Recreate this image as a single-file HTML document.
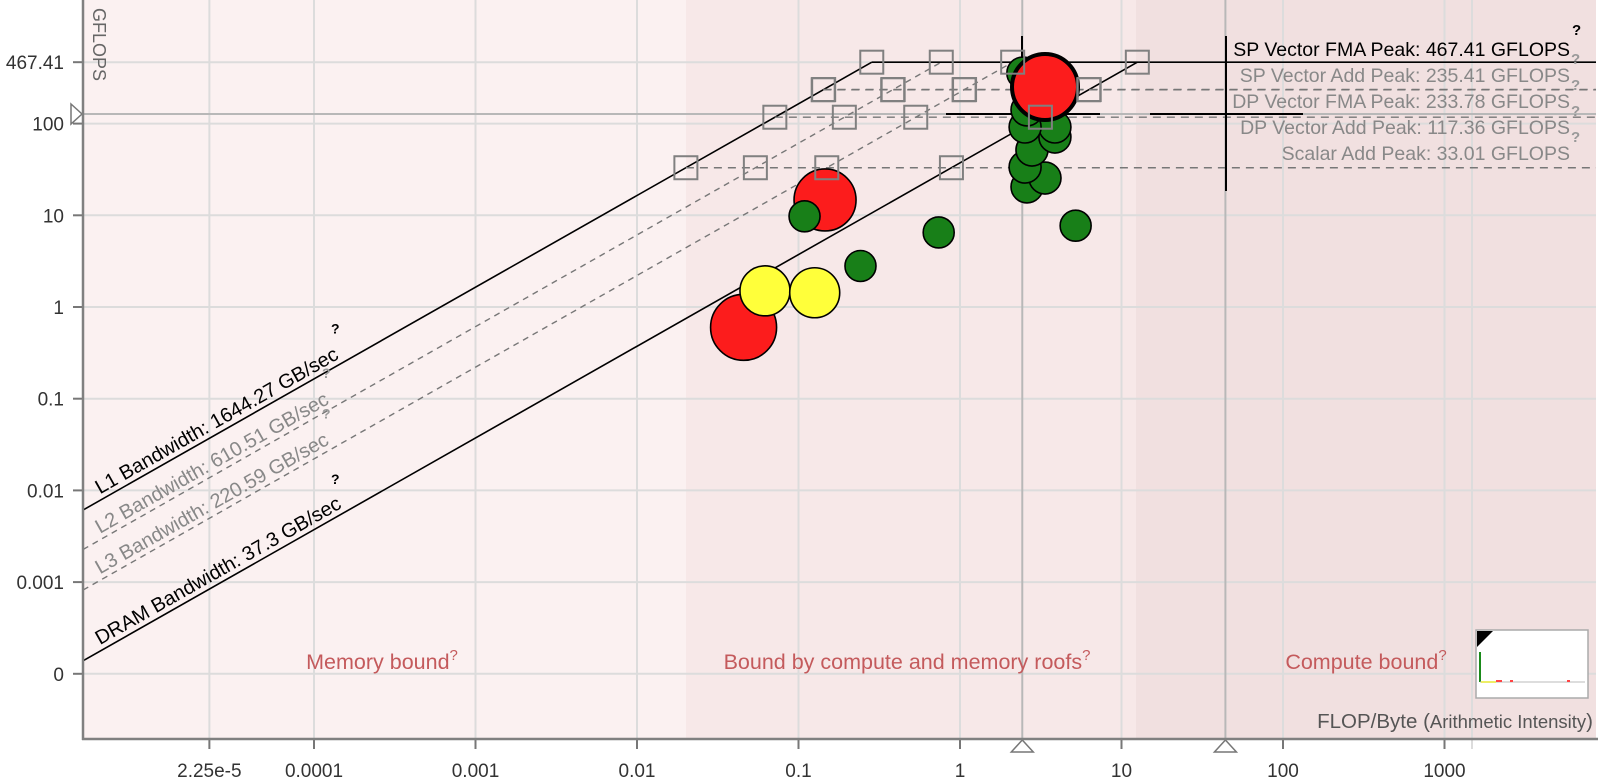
<!DOCTYPE html>
<html><head><meta charset="utf-8"><style>
html,body{margin:0;padding:0;background:#fff;}
svg{display:block;font-family:"Liberation Sans",sans-serif;}
</style></head><body>
<svg id="chart" width="1598" height="778" viewBox="0 0 1598 778" xmlns="http://www.w3.org/2000/svg">
<g id="bg"></g><g id="grid"></g><g id="roofs"></g><g id="marks"></g><g id="labels"></g>
</svg>
<script>
// ---- data ----
const xTicks = [2.25e-5, 0.0001, 0.001, 0.01, 0.1, 1, 10, 100, 1000];
const xTickLabels = ["2.25e-5","0.0001","0.001","0.01","0.1","1","10","100","1000"];
const yTicks = [467.41, 100, 10, 1, 0.1, 0.01, 0.001, 0.0001];
const yTickLabels = ["467.41","100","10","1","0.1","0.01","0.001","0"];
const bwNames = ["L1 Bandwidth: 1644.27 GB/sec","L2 Bandwidth: 610.51 GB/sec","L3 Bandwidth: 220.59 GB/sec","DRAM Bandwidth: 37.3 GB/sec"];
const bwValues = [1644.27, 610.51, 220.59, 37.3];
const roofNames = ["SP Vector FMA Peak: 467.41 GFLOPS","SP Vector Add Peak: 235.41 GFLOPS","DP Vector FMA Peak: 233.78 GFLOPS","DP Vector Add Peak: 117.36 GFLOPS","Scalar Add Peak: 33.01 GFLOPS"];
const roofValues = [467.41, 235.41, 233.78, 117.36, 33.01];
const pointAI     = [0.0457, 0.062, 0.126, 0.146, 0.109, 0.242, 0.738, 5.2, 2.60, 3.36, 2.53, 2.79, 3.87, 3.87, 2.53, 2.60, 2.45, 3.36];
const pointGFLOPS = [0.6, 1.5, 1.43, 14.7, 9.75, 2.8, 6.5, 7.7, 20.4, 25.5, 33.6, 51.5, 71.4, 91.8, 91.8, 141, 356, 251];
const pointSize   = [33, 25, 25, 31, 15.5, 15.5, 15.5, 15.5, 16, 16, 16, 16, 16, 16, 16, 16, 16, 33];
const pointKind   = ["red","yellow","yellow","red","green","green","green","green","green","green","green","green","green","green","green","green","green","red"];
const cursorAI = [2.43, 44];
const cursorGFLOPS = 114;

// ---- axes ----
const L=83, R=1596, T=0, B=739;
const X = v => 960 + 161.5*Math.log10(v);
const Y = v => 307 - 91.7*Math.log10(v);
const NS="http://www.w3.org/2000/svg";
function mk(tag, attrs, parent, text){const e=document.createElementNS(NS,tag);for(const k in attrs)e.setAttribute(k,attrs[k]);if(text!==undefined)e.textContent=text;document.getElementById(parent).appendChild(e);return e;}

let e;
e=mk("rect",{x:L,y:T,width:686-L,height:B-T,fill:"#fbf1f1"},"bg");


e=mk("rect",{x:686,y:T,width:1136-686,height:B-T,fill:"#f7e8e8"},"bg");


e=mk("rect",{x:1136,y:T,width:R-1136,height:B-T,fill:"#f1e0e0"},"bg");



xTicks.forEach((v,i)=>{const x=X(v);
  e=mk("line",{x1:x,x2:x,y1:T,y2:B,stroke:"#dcdcdc","stroke-width":2},"grid");
  
  
  e=mk("line",{x1:x,x2:x,y1:B,y2:B+10,stroke:"#777","stroke-width":2},"grid");
  
  
  e=mk("text",{x:x,y:777,"text-anchor":"middle","font-size":19,fill:"#333"},"labels",xTickLabels[i]);
  
  
});
e=mk("line",{x1:1472,x2:1472,y1:T,y2:B+10,stroke:"#dcdcdc","stroke-width":2},"grid");


yTicks.forEach((v,i)=>{const y=Y(v);
  e=mk("line",{x1:L,x2:R,y1:y,y2:y,stroke:"#dcdcdc","stroke-width":2},"grid");
  
  
  e=mk("line",{x1:L-10,x2:L,y1:y,y2:y,stroke:"#777","stroke-width":2},"grid");
  
  
  e=mk("text",{x:64,y:y+7,"text-anchor":"end","font-size":19,fill:"#333"},"labels",yTickLabels[i]);
  
  
});
cursorAI.forEach(a=>{const x=X(a);
  e=mk("line",{x1:x,x2:x,y1:T,y2:B,stroke:"#b8b8b8","stroke-width":2},"grid");
  
  
  e=mk("path",{d:`M${x-11},${B+13}L${x},${B+1}L${x+11},${B+13}Z`,fill:"#fff",stroke:"#777","stroke-width":1.5},"labels");
  
  
});
e=mk("line",{x1:L,x2:R,y1:cursorGFLOPS,y2:cursorGFLOPS,stroke:"#b8b8b8","stroke-width":2},"grid");


e=mk("path",{d:`M71,${cursorGFLOPS-10}L82,${cursorGFLOPS}L71,${cursorGFLOPS+10}Z`,fill:"#fff",stroke:"#777","stroke-width":1.5},"labels");



const topRoof=roofValues[0];
const ang=-Math.atan(91.7/161.5)*180/Math.PI;
bwValues.forEach((bw,i)=>{
  const ai0=Math.pow(10,(L-960)/161.5), ai1=topRoof/bw;
  const solid=(i===0||i===3);
  e=mk("line",{x1:L,y1:Y(bw*ai0),x2:X(ai1),y2:Y(topRoof),stroke:solid?"#000":"#777","stroke-width":solid?1.6:1.4,"stroke-dasharray":solid?"none":"6,5"},"roofs");
  
  
  const lx=100, la=Math.pow(10,(lx-960)/161.5), ly=Y(bw*la)-6;
  e=mk("text",{x:lx,y:ly,"font-size":20,fill:solid?"#000":"#888",transform:`rotate(${ang} ${lx} ${ly})`},"labels",bwNames[i]);
  
  
  const qx=solid?336:327, qa=Math.pow(10,(qx-960)/161.5), qy=Y(bw*qa)-38;
  e=mk("text",{x:qx-5,y:qy+5,"font-size":14,"font-weight":"bold",fill:solid?"#000":"#999"},"labels","?");
  
  
});
roofValues.forEach((p,i)=>{
  const solid=i===0;
  e=mk("line",{x1:X(p/bwValues[0]),x2:R,y1:Y(p),y2:Y(p),stroke:solid?"#000":"#777","stroke-width":solid?1.6:1.4,"stroke-dasharray":solid?"none":"8,6"},"roofs");
  
  
});
e=mk("line",{x1:1022,x2:1022,y1:36,y2:128,stroke:"#000","stroke-width":2},"roofs");


e=mk("line",{x1:1226,x2:1226,y1:36,y2:191,stroke:"#000","stroke-width":2},"roofs");


e=mk("line",{x1:946,x2:1100,y1:114,y2:114,stroke:"#000","stroke-width":2},"roofs");


e=mk("line",{x1:1150,x2:1303,y1:114,y2:114,stroke:"#000","stroke-width":2},"roofs");



const colors={red:"#fc1c1c",yellow:"#ffff3a",green:"#187f18"};
pointAI.forEach((a,i)=>{
  const last=i===pointAI.length-1;
  e=mk("circle",{cx:X(a),cy:Y(pointGFLOPS[i]),r:pointSize[i],fill:colors[pointKind[i]],stroke:"#000","stroke-width":last?4:1.6},"marks");
  
  
});
roofValues.forEach(p=>bwValues.forEach(bw=>{
  const x=X(p/bw), y=Y(p);
  e=mk("rect",{x:x-11.5,y:y-11.5,width:23,height:23,fill:"none",stroke:"#808080","stroke-width":2},"marks");
  
  
}));
const roofLabelY=[56,82,108,134,160];
roofNames.forEach((n,i)=>{
  e=mk("text",{x:1570,y:roofLabelY[i],"text-anchor":"end","font-size":19.5,fill:i===0?"#000":"#888"},"labels",n);
  
  
  if(i<4){e=mk("text",{x:1571,y:roofLabelY[i]+8,"font-size":15,"font-weight":"bold",fill:"#999"},"labels","?");
  
  }
});
e=mk("text",{x:1572,y:35,"font-size":15,"font-weight":"bold",fill:"#000"},"labels","?");


</script>
<svg style="position:absolute;left:0;top:0" width="1598" height="778">
<line x1="83" y1="0" x2="83" y2="740" stroke="#808080" stroke-width="2.5"/>
<line x1="82" y1="739" x2="1598" y2="739" stroke="#808080" stroke-width="2.5"/>
<text x="93" y="8" font-size="18" fill="#666" transform="rotate(90 93 8)" font-family="Liberation Sans, sans-serif">GFLOPS</text>
<text x="382" y="669" text-anchor="middle" font-size="21.5" fill="#c45a5c" font-family="Liberation Sans, sans-serif">Memory bound<tspan font-size="15" dy="-9">?</tspan></text>
<text x="907" y="669" text-anchor="middle" font-size="21.5" fill="#c45a5c" font-family="Liberation Sans, sans-serif">Bound by compute and memory roofs<tspan font-size="15" dy="-9">?</tspan></text>
<text x="1366" y="669" text-anchor="middle" font-size="21.5" fill="#c45a5c" font-family="Liberation Sans, sans-serif">Compute bound<tspan font-size="15" dy="-9">?</tspan></text>
<text x="1593" y="728" text-anchor="end" font-size="20.5" fill="#555" font-family="Liberation Sans, sans-serif">FLOP/Byte (<tspan font-size="18.5">Arithmetic Intensity</tspan>)</text>
<g>
<rect x="1476" y="630" width="112" height="68" fill="#fff" stroke="#aaa" stroke-width="1.5"/>
<path d="M1477,631L1493,631L1477,647Z" fill="#000"/>
<line x1="1480" y1="652" x2="1480" y2="682" stroke="#1a8a1a" stroke-width="2"/>
<line x1="1480" y1="682" x2="1585" y2="682" stroke="#bbb" stroke-width="1"/>
<line x1="1481" y1="682" x2="1496" y2="682" stroke="#ee6" stroke-width="2"/>
<rect x="1496" y="680" width="6" height="2" fill="#f44"/><rect x="1510" y="680" width="3" height="2" fill="#f44"/><rect x="1567" y="680" width="3" height="2" fill="#f44"/>
</g>
</svg>
</body></html>
